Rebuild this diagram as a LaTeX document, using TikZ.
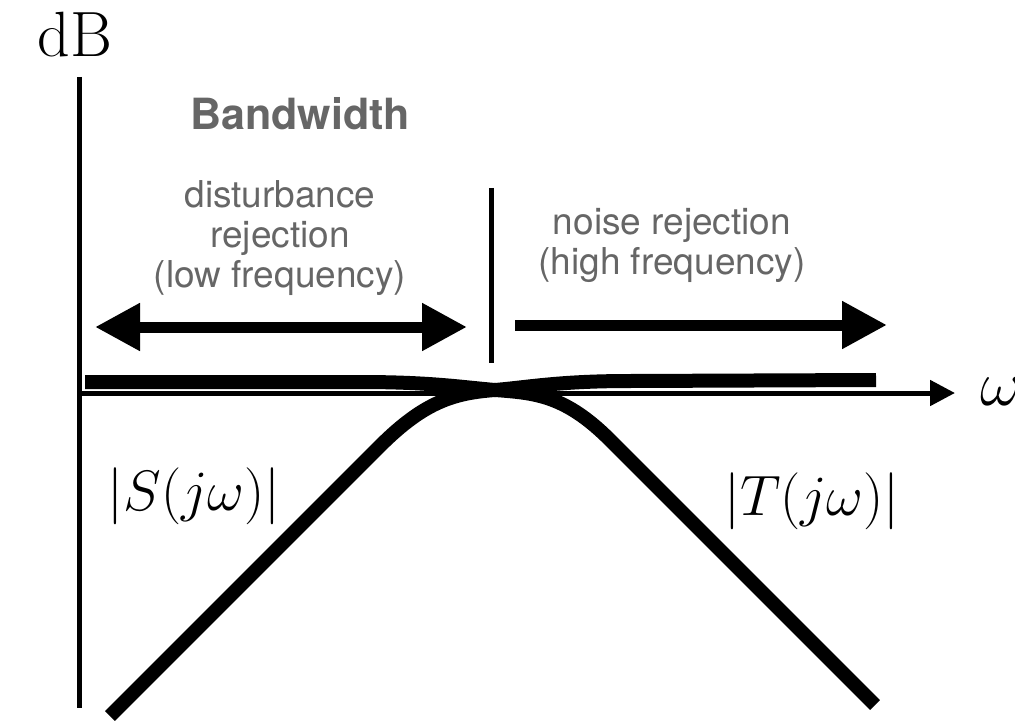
\documentclass[tikz,border=0pt]{standalone}
\usepackage{fix-cm}
\usepackage{fontspec}
\setsansfont{TeX Gyre Heros}
\usetikzlibrary{arrows.meta,
                positioning}
\definecolor{notegray}{gray}{0.4}
\tikzset{axis/.style =
   {draw,
    line width=2.5pt}}
\tikzset{response/.style =
   {draw,
    line width=7pt,
    line cap=butt,
    line join=round}}
\tikzset{band/.style =
   {draw,
    line width=5.5pt}}
\tikzset{bigtip/.tip = {Triangle[length=22.5pt, width=22.5pt]}}
\tikzset{axistip/.tip = {Triangle[length=12.5pt, width=12.5pt]}}
\tikzset{unit-label/.style =
   {inner sep=0pt,
    font=\fontsize{32}{38}\selectfont}}
\tikzset{tf-label/.style =
   {inner sep=0pt,
    font=\fontsize{28.5}{34}\selectfont}}
\tikzset{heading/.style =
   {inner sep=0pt,
    text=notegray,
    font=\sffamily\bfseries\fontsize{21.5}{25}\selectfont}}
\tikzset{note/.style =
   {inner sep=0pt,
    align=center,
    text=notegray,
    font=\sffamily\fontsize{18.5}{20}\selectfont}}

\begin{document}
\begin{tikzpicture}[x=0.5pt, y=-0.5pt]
    \useasboundingbox (0,0) rectangle (1015,727);

    % axes
    \coordinate (ytop) at (79,77);
    \coordinate (ybottom) at (79,708);
    \coordinate (origin) at (79,393);
    \coordinate (xend) at (955,393);
    \draw [axis] (ytop) -- (ybottom);
    \draw [axis, -axistip] (origin) -- (xend);

    \node [unit-label] (db) at (75,35) {dB};
    \node [unit-label,
           anchor=west] (omega) at (980,392) {$\omega$};

    % bandwidth split
    \coordinate (split-top) at (491,188);
    \coordinate (split-bottom) at (491,363);
    \draw [axis] (split-top) -- (split-bottom);

    \node [heading] (bandwidth) at (300,114) {Bandwidth};
    \node [note] (low-text) at (280,238) {disturbance\\rejection\\(low frequency)};
    \node [note] (high-text) at (672,245) {noise rejection\\(high frequency)};

    \coordinate (low-left) at (95,327);
    \coordinate (low-right) at (467,327);
    \coordinate (high-left) at (515,325);
    \coordinate (high-right) at (887,325);
    \draw [band, bigtip-bigtip] (low-left) -- (low-right);
    \draw [band, -bigtip] (high-left) -- (high-right);

    % |T|: flat, then rolls off
    \draw [response] (85,382) -- (360,382)
        .. controls (430,382) and (460,387) .. (495,390)
        .. controls (535,393) and (565,395) .. (610,440)
        -- (875,705);

    % |S|: rises, then flat
    \draw [response] (110,716) -- (380,446)
        .. controls (425,401) and (455,393) .. (495,390)
        .. controls (530,387) and (560,381) .. (630,381)
        -- (876,380);

    \node [tf-label] (sens) at (194,496) {$|S(j\omega)|$};
    \node [tf-label] (comp) at (812,501) {$|T(j\omega)|$};

\end{tikzpicture}
\end{document}
